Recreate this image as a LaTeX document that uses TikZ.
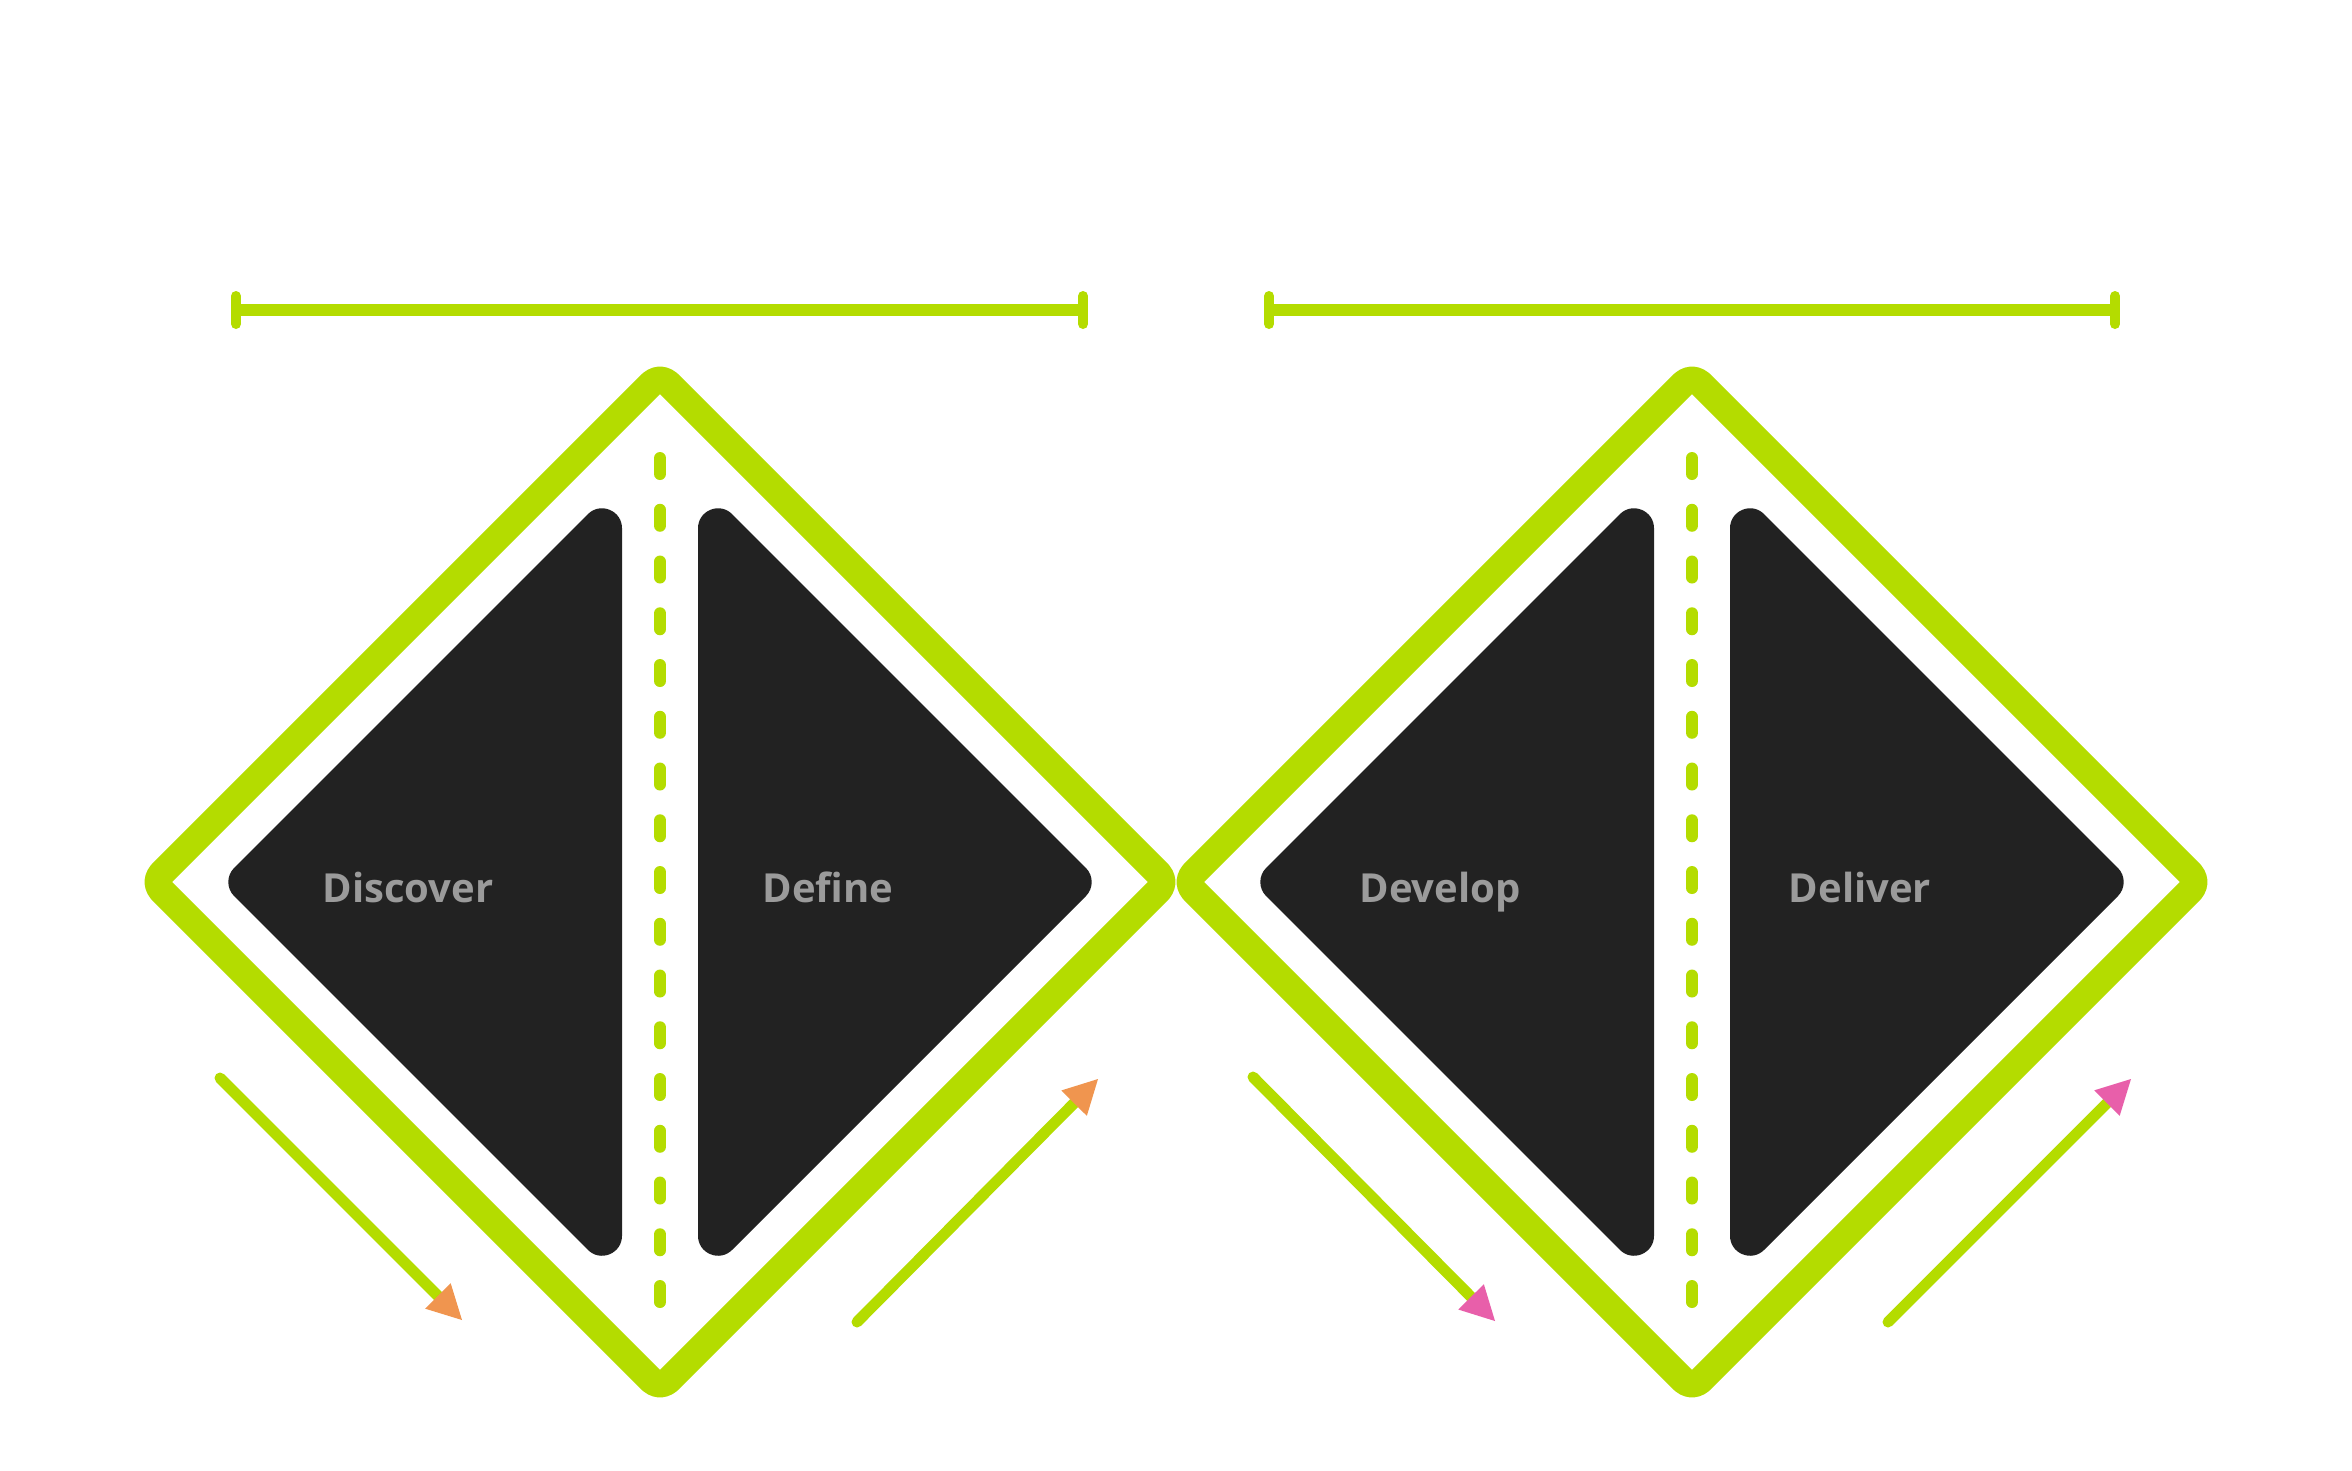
\documentclass[tikz,border=0pt]{standalone}
\usepackage{fontspec}
\setmainfont{Open Sans}
\usetikzlibrary{arrows.meta}
\definecolor{lime}{RGB}{180,220,0}
\definecolor{darkfill}{RGB}{34,34,34}
\definecolor{tiporange}{RGB}{240,149,79}
\definecolor{tippink}{RGB}{232,95,170}
\definecolor{labgray}{RGB}{155,155,155}
\tikzset{
  outline/.style={draw=lime, line width=27pt, rounded corners=12pt, line join=round},
  darktri/.style={fill=darkfill, draw=darkfill, line width=40pt, line join=round},
  dashline/.style={draw=lime, line width=12pt, line cap=round, dash pattern=on 16pt off 35.75pt},
  barline/.style={draw=lime, line width=12pt},
  tickline/.style={draw=lime, line width=10pt, line cap=round},
  arrowline/.style={draw=lime, line width=11pt, line cap=round},
  phase/.style={font=\bfseries\fontsize{40pt}{48pt}\selectfont, text=labgray, inner sep=0pt, anchor=base},
  hidden/.style={font=\fontsize{36pt}{42pt}\selectfont, text=white, inner sep=0pt},
  hiddenrot/.style={font=\fontsize{30pt}{36pt}\selectfont, text=white, inner sep=0pt},
}
\begin{document}
\begin{tikzpicture}[x=1pt,y=-1pt]
\useasboundingbox[fill=white] (0,0) rectangle (2352,1470);

% top bars
\coordinate (b1l) at (236,310); \coordinate (b1r) at (1083,310);
\coordinate (b2l) at (1269,310); \coordinate (b2r) at (2115,310);
\draw[barline] (b1l) -- (b1r);
\draw[barline] (b2l) -- (b2r);
\draw[tickline] ([yshift=-14]b1l) -- ([yshift=14]b1l);
\draw[tickline] ([yshift=-14]b1r) -- ([yshift=14]b1r);
\draw[tickline] ([yshift=-14]b2l) -- ([yshift=14]b2l);
\draw[tickline] ([yshift=-14]b2r) -- ([yshift=14]b2r);
\node[hidden] (strategy) at (660,268) {Strategy};
\node[hidden] (execution) at (1693,268) {Execution};

% left diamond
\draw[outline] (660,375) -- (1167,882) -- (660,1389) -- (153,882) -- cycle;
\filldraw[darktri] (248.3,882) -- (602,528.3) -- (602,1235.7) -- cycle;
\filldraw[darktri] (1071.7,882) -- (718,528.3) -- (718,1235.7) -- cycle;
\coordinate (d1t) at (660,458); \coordinate (d1b) at (660,1310);
\draw[dashline] (d1t) -- (d1b);
\node[phase] (discover) at (408,902) {Discover};
\node[phase] (define) at (828,902) {Define};

% right diamond
\draw[outline] (1692,375) -- (2199,882) -- (1692,1389) -- (1185,882) -- cycle;
\filldraw[darktri] (1280.3,882) -- (1634,528.3) -- (1634,1235.7) -- cycle;
\filldraw[darktri] (2103.7,882) -- (1750,528.3) -- (1750,1235.7) -- cycle;
\coordinate (d2t) at (1692,458); \coordinate (d2b) at (1692,1310);
\draw[dashline] (d2t) -- (d2b);
\node[phase] (develop) at (1440,902) {Develop};
\node[phase] (deliver) at (1860,902) {Deliver};

% hidden side labels
\node[hidden] (problem) at (147,654) {Problem};
\node[hidden] (probdef) at (1178,651) {Problem Definition};
\node[hidden] (solution) at (2206,652) {Solution};

% arrows
\coordinate (a1s) at (220,1078); \coordinate (a1e) at (462,1320);
\coordinate (a2s) at (857,1322); \coordinate (a2e) at (1098,1079);
\coordinate (a3s) at (1253,1077); \coordinate (a3e) at (1495,1321);
\coordinate (a4s) at (1888,1322); \coordinate (a4e) at (2131,1079);
\draw[arrowline, -{Triangle[length=34pt,width=36pt,line width=0pt,color=tiporange]}] (a1s) -- (a1e);
\draw[arrowline, -{Triangle[length=34pt,width=36pt,line width=0pt,color=tiporange]}] (a2s) -- (a2e);
\draw[arrowline, -{Triangle[length=34pt,width=36pt,line width=0pt,color=tippink]}] (a3s) -- (a3e);
\draw[arrowline, -{Triangle[length=34pt,width=36pt,line width=0pt,color=tippink]}] (a4s) -- (a4e);
\node[hiddenrot, rotate=-45] (div1) at (320,1220) {Diverge};
\node[hiddenrot, rotate=45] (con1) at (1007,1218) {Converge};
\node[hiddenrot, rotate=-45] (div2) at (1350,1220) {Diverge};
\node[hiddenrot, rotate=45] (con2) at (2038,1218) {Converge};
\end{tikzpicture}
\end{document}
